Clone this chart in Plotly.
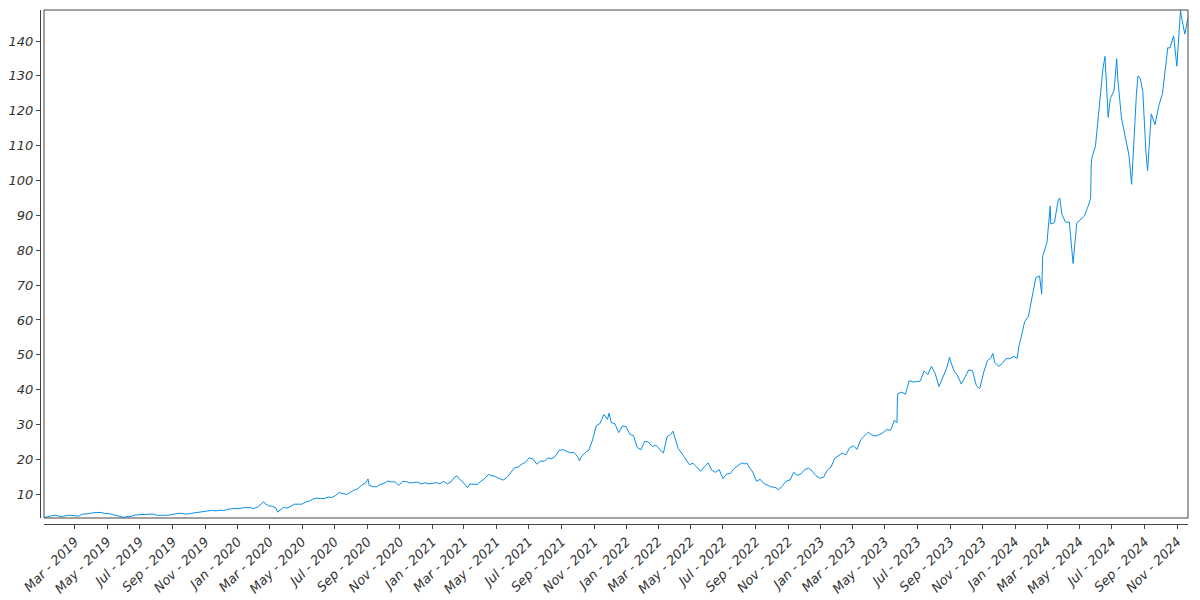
import pandas as pd
import plotly.graph_objects as go

# Weekly (Friday) closing prices, split-adjusted
v2019 = [3.40, 3.72, 3.92, 4.00, 3.65, 3.70, 3.98, 3.95, 3.93, 3.73,
         4.28, 4.28, 4.49, 4.72, 4.68, 4.78, 4.50, 4.53, 4.23, 3.95,
         3.73, 3.39, 3.60, 3.63, 4.05, 4.10, 4.05, 4.25, 4.23, 4.35,
         3.98, 3.95, 4.05, 3.98, 4.19, 4.45, 4.58, 4.45, 4.30, 4.50,
         4.68, 4.83, 4.95, 5.10, 5.28, 5.35, 5.25, 5.43, 5.33, 5.70,
         5.93, 5.95]
v2020 = [5.90, 6.18, 6.25, 6.20, 5.90, 6.30, 7.35, 7.38, 6.70, 6.58,
         6.08, 5.40, 6.25, 6.03, 6.68, 7.18, 7.15, 7.18, 7.78, 8.08,
         8.70, 8.88, 8.75, 8.80, 9.20, 9.08, 9.68, 10.50, 10.20, 9.93,
         10.60, 11.20, 11.55, 12.68, 13.15, 12.60, 12.18, 12.18, 12.85, 13.10,
         13.80, 13.58, 13.53, 12.53, 13.73, 13.63, 13.23, 13.40, 13.48, 12.98,
         13.30, 12.98]
v2021 = [13.05, 13.33, 13.00, 13.70, 13.00, 13.58, 14.95, 14.63, 13.73, 12.40,
         12.95, 12.93, 12.80, 13.75, 14.43, 15.68, 15.43, 15.00, 14.53, 14.08,
         14.83, 16.23, 17.55, 17.80, 18.65, 19.20, 20.48, 20.13, 18.63, 19.50,
         19.50, 20.40, 20.20, 20.90, 22.60, 22.80, 22.40, 21.90, 22.00, 20.80,
         20.80, 21.90, 22.70, 25.60, 29.70, 30.30, 32.90, 31.50, 30.60, 30.20,
         27.70, 29.60, 29.40]
v2022 = [27.20, 26.80, 23.40, 22.80, 25.20, 25.00, 23.70, 24.10, 22.90, 21.80,
         26.50, 27.20, 26.70, 23.10, 21.70, 20.10, 18.50, 18.90, 17.70, 16.60,
         17.90, 19.00, 16.90, 16.30, 17.10, 14.50, 15.80, 16.00, 17.40, 18.20,
         19.00, 18.70, 17.80, 16.40, 13.70, 14.30, 13.10, 12.50, 12.10, 12.00,
         11.30, 12.50, 13.80, 14.10, 16.30, 15.40, 15.90, 17.10, 17.50, 16.60,
         15.30, 14.60]
v2023 = [14.90, 16.90, 17.80, 20.30, 21.10, 21.80, 21.30, 23.30, 23.90, 22.90,
         25.70, 26.80, 27.80, 27.00, 26.70, 27.10, 27.70, 28.60, 28.30, 31.20,
         38.90, 39.30, 38.70, 42.60, 42.20, 42.30, 42.50, 45.40, 44.30, 46.70,
         44.60, 40.90, 43.30, 46.00, 48.50, 45.50, 44.00, 41.60, 43.50, 45.70,
         45.40, 41.30, 40.50, 45.00, 48.30, 49.20, 47.80, 46.70, 47.50, 48.90,
         48.90, 49.50]
v2024 = [49.00, 54.80, 59.50, 61.00, 66.20, 72.10, 72.60, 78.80, 82.30, 87.50,
         87.90, 94.30, 90.30, 88.00, 88.10, 76.20, 87.80, 88.80, 89.80, 92.50,
         106.40, 109.70, 120.90, 131.90, 126.60, 123.50, 125.80, 129.20, 117.90, 113.10,
         107.30, 104.80, 124.60, 129.40, 119.40, 102.80, 119.10, 116.00, 121.40, 124.90,
         134.80, 138.00, 141.50, 135.40, 147.60, 141.98]

# Intra-week highs/lows visible on the chart
extra_dates = ["2019-01-02", "2019-01-03", "2020-02-19", "2020-03-16", "2020-09-02",
               "2021-02-16", "2021-03-08", "2021-10-04", "2021-11-29", "2022-03-29",
               "2022-08-15", "2023-05-24", "2023-05-25", "2023-08-31", "2023-10-26",
               "2023-11-20", "2024-01-08", "2024-02-20", "2024-02-22", "2024-03-07",
               "2024-03-25", "2024-05-22", "2024-05-23", "2024-06-18", "2024-06-24",
               "2024-07-10", "2024-07-24", "2024-08-07", "2024-08-19", "2024-08-28",
               "2024-09-03", "2024-10-14", "2024-10-31", "2024-11-07", "2024-11-21"]
extra_values = [3.41, 3.20, 7.85, 4.90, 14.40,
                15.30, 11.90, 19.60, 33.30, 28.10,
                19.00, 30.50, 38.00, 49.30, 40.30,
                50.40, 52.30, 67.40, 78.50, 92.70,
                95.00, 94.90, 103.80, 135.60, 118.10,
                134.90, 114.30, 98.90, 130.00, 125.60,
                108.00, 138.10, 132.80, 148.90, 146.70]

year_starts = {"2019-01-04": v2019, "2020-01-03": v2020, "2021-01-01": v2021,
               "2022-01-07": v2022, "2023-01-06": v2023, "2024-01-05": v2024}

frames = []
for start, vals in year_starts.items():
    d = pd.date_range(start=start, periods=len(vals), freq="W-FRI")
    frames.append(pd.DataFrame({"date": d, "close": vals}))
frames.append(pd.DataFrame({"date": pd.to_datetime(extra_dates), "close": extra_values}))
df = pd.concat(frames).sort_values("date", kind="stable").reset_index(drop=True)

# The page body has an 8px default margin; the figure is sized/offset to compensate
W, H = 1192, 592
ml, mr, mt, mb = 32, 12, 2, 76
pw = W - ml - mr
ph = H - mt - mb
gap_x = 4
gap_y = 6

axis_col = "#444444"
tick_font = dict(family="DejaVu Sans", size=13, color="#333333", style="italic")

fig = go.Figure()
fig.add_trace(go.Scatter(x=df["date"], y=df["close"], mode="lines",
                         line=dict(color="rgb(8,142,232)", width=1),
                         showlegend=False, hoverinfo="x+y"))

fig.update_layout(
    width=W, height=H,
    margin=dict(l=ml, r=mr, t=mt, b=mb, autoexpand=False),
    paper_bgcolor="white", plot_bgcolor="white",
    showlegend=False,
    xaxis=dict(
        domain=[gap_x / pw, 1],
        anchor="free", position=0,
        automargin=False,
        range=[df["date"].min(), df["date"].max()],
        type="date",
        tick0="2019-03-01", dtick="M2", tickformat="%b - %Y",
        tickangle=-45,
        ticks="outside", ticklen=4, tickcolor=axis_col, tickwidth=1,
        showline=True, linecolor=axis_col, linewidth=1,
        showgrid=False, zeroline=False,
        tickfont=tick_font,
    ),
    yaxis=dict(
        domain=[gap_y / ph, 1],
        anchor="free", position=0,
        automargin=False,
        range=[df["close"].min(), df["close"].max()],
        tick0=0, dtick=10,
        ticks="outside", ticklen=4, tickcolor=axis_col, tickwidth=1,
        showline=True, linecolor=axis_col, linewidth=1,
        showgrid=False, zeroline=False,
        tickfont=tick_font,
    ),
)

fig.add_shape(type="rect", xref="x domain", yref="y domain",
              x0=0, x1=1, y0=0, y1=1,
              line=dict(color=axis_col, width=1), fillcolor="rgba(0,0,0,0)",
              layer="above")

fig.write_html("out.html")
